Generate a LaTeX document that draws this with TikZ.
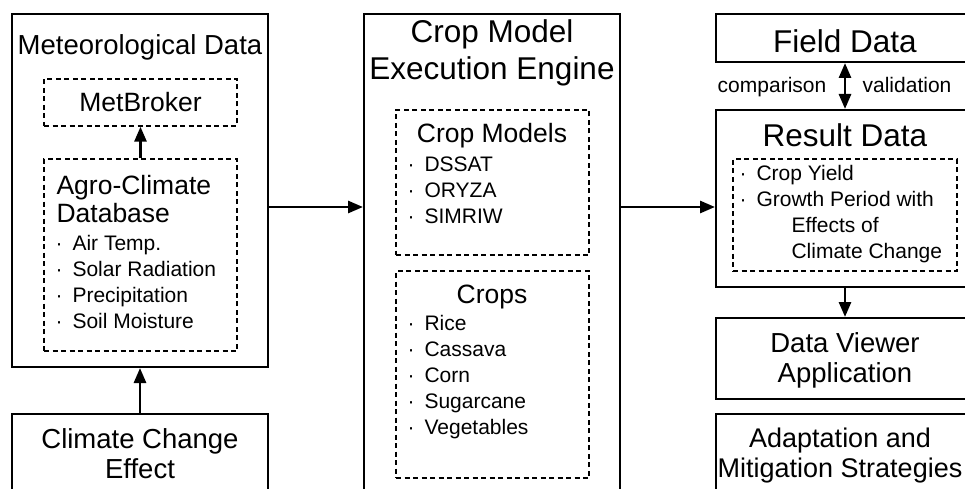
\documentclass[tikz,border=0pt]{standalone}
\usepackage{fontspec}
\setmainfont{Liberation Sans}
\usetikzlibrary{arrows.meta}

\newcommand{\titlefont}{\fontsize{31.5}{37}\selectfont}
\newcommand{\headfont}{\fontsize{27.5}{30}\selectfont}
\newcommand{\subfont}{\fontsize{26.5}{28}\selectfont}
\newcommand{\itemfont}{\fontsize{21}{25.8}\selectfont}
\newcommand{\bul}{\textperiodcentered\hspace{10pt}}

\begin{document}
\begin{tikzpicture}[x=1pt,y=-1pt,>={Triangle[length=15pt,width=12pt]},
	frame/.style={draw,rectangle,inner sep=0pt,line width=2pt},
	dashbox/.style={draw,rectangle,inner sep=0pt,line width=1.4pt,dash pattern=on 5pt off 3.5pt},
	flow/.style={->,line width=2.8pt},
	every node/.style={font=\headfont}]
	
	\useasboundingbox (0,0) rectangle (965,489);
	\clip (0,0) rectangle (965,489);
	
	% meteorological data
	\node[frame,minimum width=256pt,minimum height=353pt] (met) at (140,190.5) {};
	\node[anchor=base] (mettitle) at (140,55) {Meteorological Data};
	\node[dashbox,minimum width=193pt,minimum height=47pt,font=\subfont] (metbroker) at (140.5,102.5) {MetBroker};
	\node[dashbox,minimum width=193pt,minimum height=192pt] (agro) at (140.5,255) {};
	\node[anchor=base west,align=left,font=\subfont] (agrotitle) at (53,222) {Agro-Climate\\Database};
	\node[anchor=base west,align=left,font=\itemfont] (agrolist) at (52,328)
	{\bul Air Temp.\\\bul Solar Radiation\\\bul Precipitation\\\bul Soil Moisture};
	\node[frame,minimum width=256pt,minimum height=81pt] (climate) at (140,454.5) {};
	\node[anchor=base,align=center] (climatetext) at (140,478) {Climate Change\\Effect};
	
	% execution engine
	\node[frame,minimum width=256pt,minimum height=481pt] (engine) at (492,254.5) {};
	\node[anchor=base,align=center,font=\titlefont] (enginetitle) at (492,80) {Crop Model\\Execution Engine};
	\node[dashbox,minimum width=193pt,minimum height=145pt] (models) at (492.5,182.5) {};
	\node[anchor=base,font=\subfont] (modelstitle) at (492,143) {Crop Models};
	\node[anchor=base west,align=left,font=\itemfont] (modelslist) at (404,223)
	{\bul DSSAT\\\bul ORYZA\\\bul SIMRIW};
	\node[dashbox,minimum width=193pt,minimum height=207pt] (crops) at (492.5,374.5) {};
	\node[anchor=base,font=\subfont] (cropstitle) at (492,303) {Crops};
	\node[anchor=base west,align=left,font=\itemfont] (cropslist) at (404,434)
	{\bul Rice\\\bul Cassava\\\bul Corn\\\bul Sugarcane\\\bul Vegetables};
	
	% results
	\node[frame,minimum width=258pt,minimum height=48pt] (field) at (845,38) {};
	\node[anchor=base,font=\titlefont] (fieldtext) at (845,53) {Field Data};
	\node[frame,minimum width=258pt,minimum height=177pt] (result) at (845,198.5) {};
	\node[anchor=base,font=\titlefont] (resulttitle) at (845,147) {Result Data};
	\node[dashbox,minimum width=224pt,minimum height=112pt] (resultbox) at (845,215) {};
	\node[anchor=base west,align=left,font=\itemfont] (resultlist) at (736,258)
	{\bul Crop Yield\\\bul Growth Period with\\\hspace{52pt}Effects of\\\hspace{52pt}Climate Change};
	\node[frame,minimum width=258pt,minimum height=81pt] (viewer) at (845,358.5) {};
	\node[anchor=base,align=center] (viewertext) at (845,382) {Data Viewer\\Application};
	\node[frame,minimum width=258pt,minimum height=81pt] (adapt) at (845,454.5) {};
	\node[anchor=base,align=center,font=\fontsize{27}{30}\selectfont] (adapttext) at (840,477) {Adaptation and\\Mitigation Strategies};
	\node[anchor=base,font=\itemfont] (cmp) at (772,93) {comparison};
	\node[anchor=base,font=\itemfont] (val) at (907,93) {validation};
	
	% connectors
	\coordinate (mid) at (0,207);
	\draw[flow] (agro.north) -- (metbroker.south);
	\draw[flow] (climate.north) -- (met.south);
	\draw[flow] (met.east |- mid) -- (engine.west |- mid);
	\draw[flow] (engine.east |- mid) -- (result.west |- mid);
	\draw[flow,<->] (field.south) -- (result.north);
	\draw[flow] (result.south) -- (viewer.north);
\end{tikzpicture}
\end{document}
